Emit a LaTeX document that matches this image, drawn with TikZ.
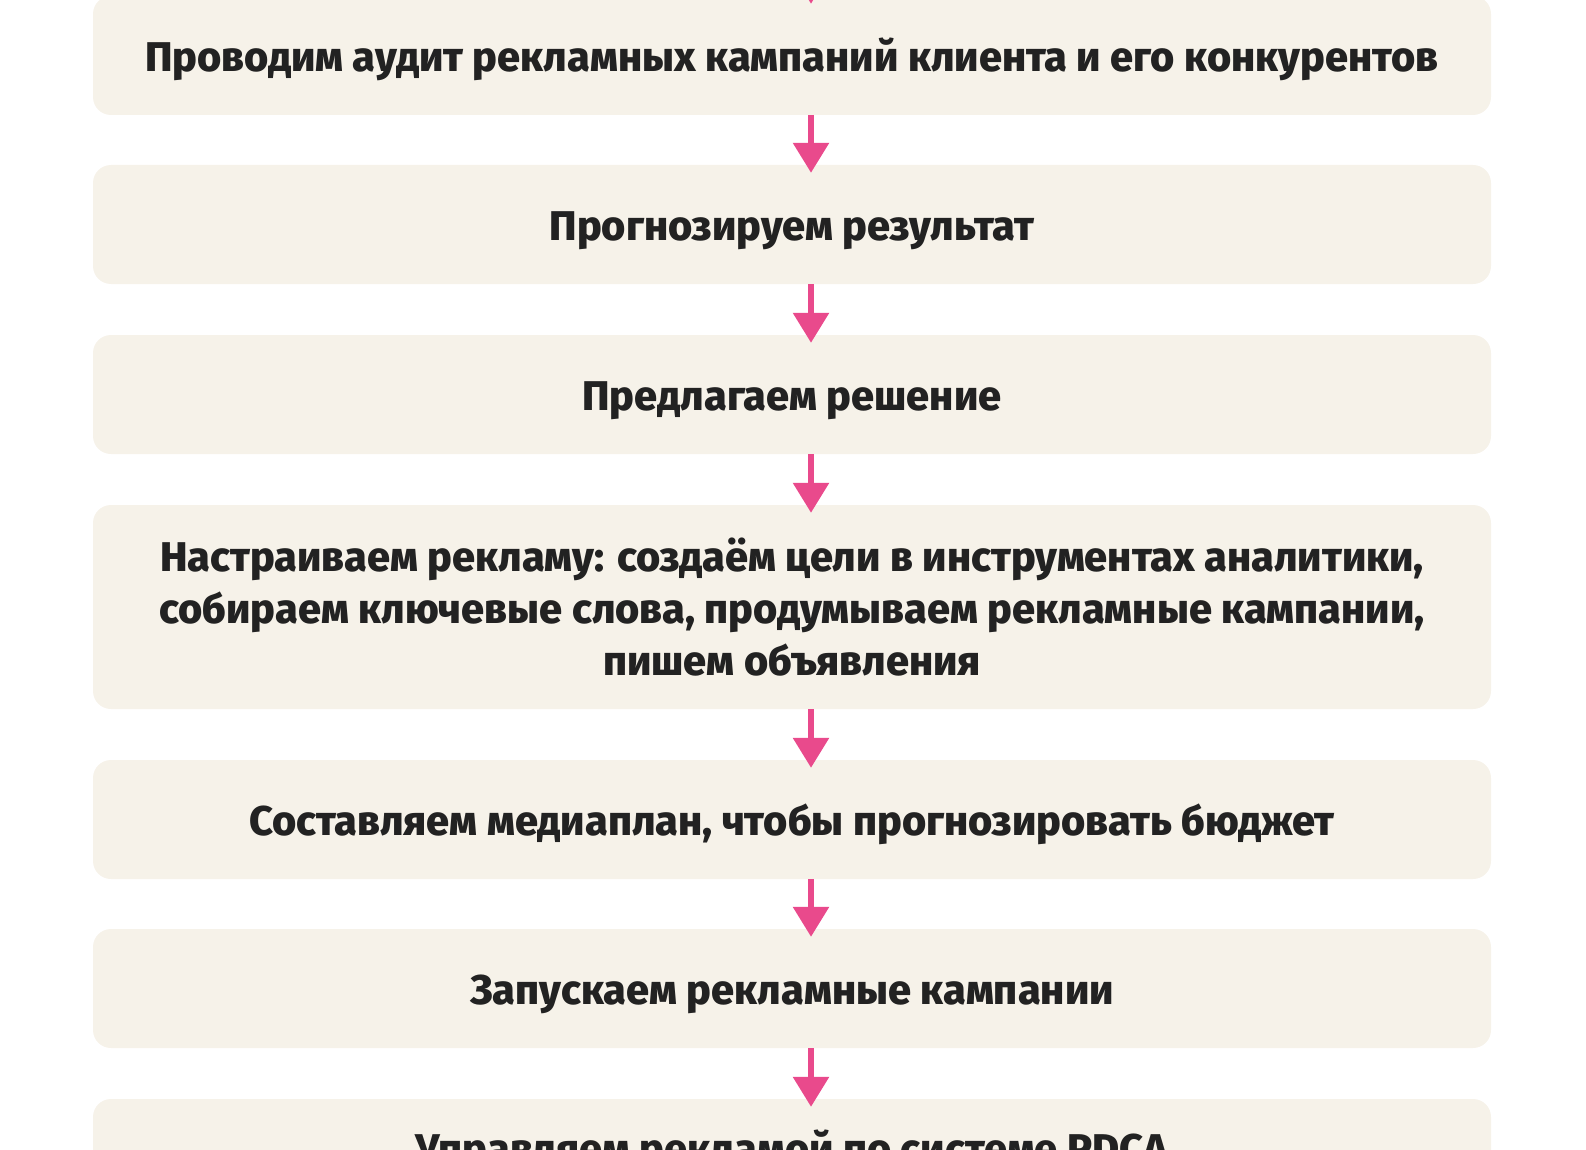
\documentclass[tikz,border=0pt]{standalone}
\usepackage{fontspec}
\setmainfont{Fira Sans}[BoldFont={Fira Sans ExtraBold}]
\usetikzlibrary{arrows.meta}
\definecolor{boxfill}{HTML}{F6F2E9}
\definecolor{arrowpink}{HTML}{E94A8C}
\definecolor{textdark}{HTML}{222222}
\tikzset{
  stepbox/.style={fill=boxfill, rounded corners=18pt, minimum width=1398pt,
    minimum height=119pt, inner sep=0pt, text=textdark,
    font=\fontsize{41.5}{52}\selectfont\bfseries, align=center},
  oneline/.style={text height=32pt, text depth=0pt},
  flowarrow/.style={draw=arrowpink, line width=6pt,
    -{Triangle[length=30pt,width=35pt]}}
}
\begin{document}
\begin{tikzpicture}[x=1pt,y=-1pt]
\useasboundingbox (0,0) rectangle (1586,1150);
\clip (0,0) rectangle (1586,1150);
\node[stepbox, oneline] (b1) at (792,55.5) {Проводим аудит рекламных кампаний клиента и его конкурентов};
\node[stepbox, oneline] (b2) at (792,224.5) {Прогнозируем результат};
\node[stepbox, oneline] (b3) at (792,394.5) {Предлагаем решение};
\node[stepbox, minimum height=204pt] (b4) at (792,607) {Настраиваем рекламу: создаём цели в инструментах аналитики,\\собираем ключевые слова, продумываем рекламные кампании,\\пишем объявления};
\node[stepbox, oneline] (b5) at (792,819.5) {Составляем медиаплан, чтобы прогнозировать бюджет};
\node[stepbox, oneline] (b6) at (792,988.5) {Запускаем рекламные кампании};
\node[stepbox, oneline, minimum height=96pt] (b7) at (792,1147) {Управляем рекламой по системе PDCA};
\coordinate (top) at (811,-60);
\draw[flowarrow] (top) -- ([xshift=19pt,yshift=-8pt]b1.north);
\foreach \a/\b in {b1/b2,b2/b3,b3/b4,b4/b5,b5/b6,b6/b7}
  \draw[flowarrow] ([xshift=19pt]\a.south) -- ([xshift=19pt,yshift=-8pt]\b.north);
\end{tikzpicture}
\end{document}
